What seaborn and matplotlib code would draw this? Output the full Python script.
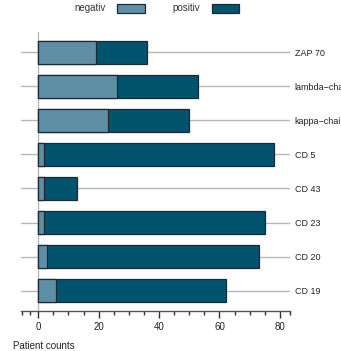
import matplotlib
matplotlib.use("Agg")
import matplotlib.pyplot as plt
import seaborn as sns
import numpy as np
import pandas as pd
from matplotlib.patches import Patch
from matplotlib.ticker import FixedLocator

categories = ["ZAP 70", "lambda−chain", "kappa−chain", "CD 5", "CD 43", "CD 23", "CD 20", "CD 19"]
negativ = [19, 26, 23, 2, 2, 2, 3, 6]
positiv = [17, 27, 27, 76, 11, 73, 70, 56]
legend_labels = ["negativ", "positiv"]
x_label = "Patient counts"

col_neg = "#5e8fa7"
col_pos = "#02536d"
edge = "#1c2b31"

sns.set_style("white")
plt.rcParams["font.family"] = ["Liberation Sans", "DejaVu Sans"]

df = pd.DataFrame({"cat": categories, "neg": negativ, "pos": positiv})
df["total"] = df["neg"] + df["pos"]

fig = plt.figure(figsize=(3.41, 3.51), dpi=100)
ax = fig.add_axes([0.0616, 0.114, 0.7884, 0.795])

sns.barplot(data=df, y="cat", x="total", color=col_pos, orient="h", width=0.68,
            edgecolor=edge, linewidth=0.9, saturation=1, ax=ax, zorder=3)
sns.barplot(data=df, y="cat", x="neg", color=col_neg, orient="h", width=0.68,
            edgecolor=edge, linewidth=0.9, saturation=1, ax=ax, zorder=4)

ax.set_xlim(-5.7, 83.3)
ax.set_ylim(7.6, -0.6)
ax.axvline(0, color="#b8b8b8", lw=1, zorder=2)
ax.grid(axis="y", color="#b8b8b8", lw=1, zorder=1)
ax.set_axisbelow(True)

for s in ["top", "left", "right"]:
    ax.spines[s].set_visible(False)
ax.spines["bottom"].set_color("#555555")
ax.spines["bottom"].set_linewidth(1)

ax.yaxis.tick_right()
ax.tick_params(axis="y", length=0, pad=3.6, labelsize=6.5, labelcolor="#222222")
ax.set_ylabel("")
ax.set_xlabel("")

ax.xaxis.set_major_locator(FixedLocator([0, 20, 40, 60, 80]))
ax.xaxis.set_minor_locator(FixedLocator([-5.4, -2.6, 5, 10, 15, 25, 30, 35, 45, 50, 55, 65, 70, 75, 83.2]))
ax.tick_params(axis="x", which="major", length=5, width=1, color="#333333",
               labelsize=7, labelcolor="#222222", pad=3, bottom=True)
ax.tick_params(axis="x", which="minor", length=3, width=1, color="#333333", bottom=True)

fig.text(13 / 341, 1 - 346 / 351, x_label, fontsize=7, color="#222222", ha="left", va="center")

handles = [Patch(facecolor=col_neg, edgecolor=edge, lw=0.9),
           Patch(facecolor=col_pos, edgecolor=edge, lw=0.9)]
fig.legend(handles, legend_labels, loc="upper center", bbox_to_anchor=(0.4595, 1.015),
           ncol=2, frameon=False, markerfirst=False, fontsize=7,
           handlelength=2.8, handleheight=1.1, handletextpad=1.2, columnspacing=2.85,
           labelcolor="#333333")

fig.savefig("out.png", dpi=100)
